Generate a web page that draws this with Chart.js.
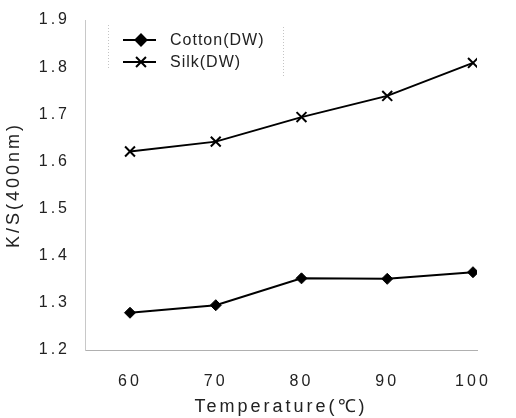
<!DOCTYPE html>
<html>
<head>
<meta charset="utf-8">
<script src="https://cdn.jsdelivr.net/npm/chart.js@4/dist/chart.umd.min.js"></script>
<style>
    html, body { margin: 0; padding: 0; background: #fff; }
    #wrap { width: 516px; height: 418px; }
</style>
</head>
<body>
<div id="wrap"><canvas id="chart"></canvas></div>
<script>
const temperatures = [60, 70, 80, 90, 100];
const cottonKS = [1.279, 1.295, 1.352, 1.351, 1.365];
const silkKS = [1.621, 1.642, 1.694, 1.739, 1.809];
const xTicks = [60, 70, 80, 90, 100];
const yTicks = [1.2, 1.3, 1.4, 1.5, 1.6, 1.7, 1.8, 1.9];

const textColor = '#222';
const fontName = '"Liberation Sans", Arial, sans-serif';

function toPoints(values) {
    return temperatures.map((t, i) => ({ x: t, y: values[i] }));
}

// spaced-out lettering like the scanned figure
const spacingPlugin = {
    id: 'spacing',
    beforeDraw(chart) {
        chart.ctx.letterSpacing = '3px';
    }
};

// legend sits inside the plot, top left
const insideLegend = {
    id: 'insideLegend',
    afterDraw(chart) {
        const ctx = chart.ctx;
        ctx.save();
        ctx.strokeStyle = '#c4c4c4';
        ctx.lineWidth = 1;
        ctx.setLineDash([1, 2]);
        ctx.beginPath();
        ctx.moveTo(108.5, 25); ctx.lineTo(108.5, 70);
        ctx.moveTo(283.5, 27); ctx.lineTo(283.5, 76);
        ctx.stroke();
        ctx.setLineDash([]);

        chart.data.datasets.forEach((ds, i) => {
            const y = 40 + i * 22;
            ctx.strokeStyle = '#000';
            ctx.lineWidth = 2;
            ctx.beginPath();
            ctx.moveTo(123, y);
            ctx.lineTo(156, y);
            ctx.stroke();
            ctx.fillStyle = '#000';
            Chart.helpers.drawPoint(ctx, {
                pointStyle: ds.pointStyle,
                radius: ds.pointRadius,
                rotation: 0,
                borderWidth: ds.pointBorderWidth
            }, 141, y);
            ctx.fill();
            ctx.letterSpacing = '1px';
            ctx.font = '16px ' + fontName;
            ctx.fillStyle = textColor;
            ctx.textAlign = 'left';
            ctx.textBaseline = 'middle';
            ctx.fillText(ds.label, 170, y + 1);
        });
        ctx.restore();
    }
};

new Chart(document.getElementById('chart'), {
    type: 'line',
    data: {
        datasets: [{
            label: 'Cotton(DW)',
            data: toPoints(cottonKS),
            borderColor: '#000',
            borderWidth: 2,
            pointStyle: 'rectRot',
            pointRadius: 5.5,
            pointBackgroundColor: '#000',
            pointBorderColor: '#000',
            pointBorderWidth: 1,
            tension: 0
        }, {
            label: 'Silk(DW)',
            data: toPoints(silkKS),
            borderColor: '#000',
            borderWidth: 2,
            pointStyle: 'crossRot',
            pointRadius: 7,
            pointBackgroundColor: '#000',
            pointBorderColor: '#000',
            pointBorderWidth: 2,
            tension: 0
        }]
    },
    options: {
        responsive: true,
        maintainAspectRatio: false,
        animation: false,
        layout: { padding: { top: 20, right: 39, left: 0, bottom: 0 } },
        plugins: {
            legend: { display: false },
            tooltip: { enabled: false }
        },
        scales: {
            x: {
                type: 'linear',
                min: 54.75,
                max: 100.47,
                afterBuildTicks: scale => { scale.ticks = xTicks.map(v => ({ value: v })); },
                afterFit: scale => { scale.height = 68; },
                grid: { display: false, drawTicks: true, tickLength: 21 },
                border: { display: true, color: '#b0b0b0', width: 1, dash: [3, 2] },
                ticks: {
                    padding: 1,
                    color: textColor,
                    font: { family: fontName, size: 16 }
                },
                title: {
                    display: true,
                    text: 'Temperature(℃)',
                    color: textColor,
                    font: { family: fontName, size: 18 },
                    padding: { top: 0, bottom: 0 }
                }
            },
            y: {
                min: 1.2,
                max: 1.9,
                afterBuildTicks: scale => { scale.ticks = yTicks.map(v => ({ value: v })); },
                afterFit: scale => { scale.width = 85; },
                grid: { display: false, drawTicks: true, tickLength: 14 },
                border: { display: true, color: '#c8c8c8', width: 1, dash: [1, 3] },
                ticks: {
                    padding: 1,
                    color: textColor,
                    font: { family: fontName, size: 16 },
                    callback: v => v.toFixed(1)
                },
                title: {
                    display: true,
                    text: 'K/S(400nm)',
                    color: textColor,
                    font: { family: fontName, size: 18 },
                    padding: { top: 3, bottom: 0 }
                }
            }
        }
    },
    plugins: [spacingPlugin, insideLegend]
});
</script>
</body>
</html>
